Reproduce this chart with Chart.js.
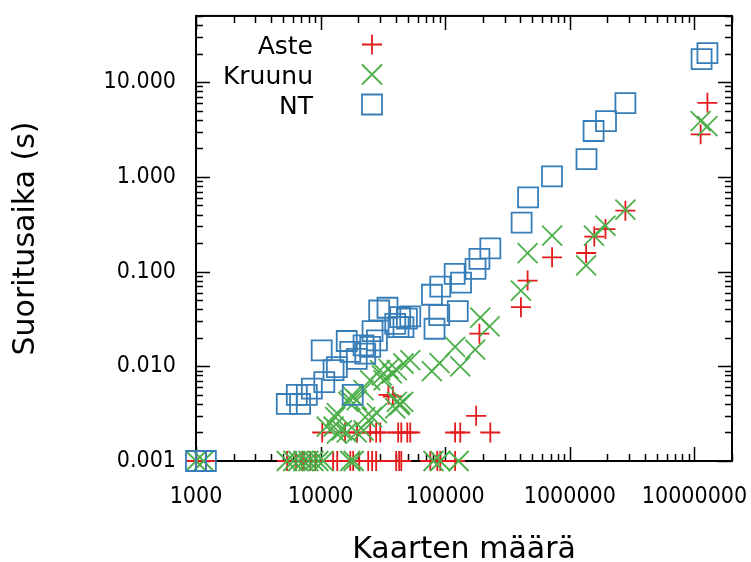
<!DOCTYPE html>
<html>
<head>
<meta charset="utf-8">
<title>Suoritusaika</title>
<script src="https://cdn.jsdelivr.net/npm/chart.js@4.4.1/dist/chart.umd.min.js"></script>
<style>
  html, body { margin: 0; padding: 0; background: #fff; }
  canvas { display: block; }
</style>
</head>
<body>
<canvas id="chart" width="751" height="562"></canvas>
<script>
// Values: x = number of cards, y = run time in seconds
const ASTE_X = [1000, 1200, 5380, 6350, 7100, 7360, 8240, 9040, 12600, 13600, 17300, 18250,
    20400, 24100, 25900, 27900, 40400, 42700, 44400, 75900, 86300, 91200, 120000,
    10300, 15700, 19600, 25000, 27900, 30100, 41900, 44400, 49600, 52400, 120000, 132000, 230000,
    177000, 35000, 38000, 188000, 405000, 458000, 720000, 1350000, 1570000, 1930000, 2790000,
    11200000, 12700000];
const ASTE_Y = [0.001, 0.001, 0.001, 0.001, 0.001, 0.001, 0.001, 0.001, 0.001, 0.001, 0.001, 0.001,
    0.001, 0.001, 0.001, 0.001, 0.001, 0.001, 0.001, 0.001, 0.001, 0.001, 0.001,
    0.002, 0.002, 0.002, 0.002, 0.002, 0.002, 0.002, 0.002, 0.002, 0.002, 0.002, 0.002, 0.002,
    0.003, 0.005, 0.0048, 0.0221, 0.0421, 0.0804, 0.1415, 0.157, 0.234, 0.281, 0.439,
    2.81, 6.05];

const KRUUNU_X = [1000, 1150, 5350, 6040, 6630, 7280, 7980, 8750, 9600, 10500, 17300, 18400, 80500, 91200, 128000,
    11200, 12700, 13500, 14800, 16200, 19500, 22100,
    13100, 13500, 22800, 25800, 28300,
    16700, 17300, 19500, 17800,
    39700, 43000, 43500, 40900, 46000,
    22100, 25000, 32000, 30000, 35100, 40900, 46200, 52400, 37300, 31000,
    78000, 90000, 120000, 132000, 174000, 191000, 227000,
    405000, 458000, 720000, 1350000, 1560000, 1930000, 2790000,
    11200000, 12700000];
const KRUUNU_Y = [0.001, 0.001, 0.001, 0.001, 0.001, 0.001, 0.001, 0.001, 0.001, 0.001, 0.001, 0.001, 0.001, 0.001, 0.001,
    0.0023, 0.0023, 0.00195, 0.0021, 0.002, 0.002, 0.0021,
    0.0029, 0.0032, 0.0029, 0.0029, 0.0032,
    0.0042, 0.0044, 0.0044, 0.0049,
    0.0036, 0.0039, 0.004, 0.0042, 0.0042,
    0.0056, 0.0071, 0.0071, 0.0091, 0.0094, 0.0091, 0.0107, 0.0116, 0.0084, 0.008,
    0.0089, 0.0108, 0.016, 0.01, 0.015, 0.0326, 0.0264,
    0.063, 0.157, 0.239, 0.116, 0.239, 0.305, 0.45,
    3.88, 3.44];

const NT_X = [1000, 1200, 5350, 6440, 6840, 7750, 8500, 10700, 12700, 13500, 10200, 18100,
    16200, 17300, 19500, 22100, 25000, 22800, 26100, 28300, 29500, 34400, 39700, 42200,
    43500, 49200, 52400, 46200, 82000, 89500, 126000, 78200, 91200, 134000, 119000,
    175000, 188000, 230000, 410000, 462000, 719000, 1360000, 1550000, 1950000, 2790000,
    11400000, 12700000];
const NT_Y = [0.001, 0.001, 0.004, 0.005, 0.004, 0.005, 0.0058, 0.0068, 0.0091, 0.0098, 0.0147, 0.005,
    0.0185, 0.0142, 0.012, 0.0166, 0.016, 0.0136, 0.0235, 0.0188, 0.0388, 0.0415, 0.0281, 0.0259,
    0.033, 0.0318, 0.0336, 0.0259, 0.0249, 0.0347, 0.0382, 0.0569, 0.0695, 0.0766, 0.0946,
    0.107, 0.136, 0.176, 0.328, 0.606, 1.01, 1.54, 3.05, 3.88, 6.0,
    17.5, 20.2];

const X_TICKS = [1000, 10000, 100000, 1000000, 10000000];
const X_TICK_LABELS = ['1000', '10000', '100000', '1000000', '10000000'];
const Y_TICKS = [0.001, 0.01, 0.1, 1, 10];
const Y_TICK_LABELS = ['0.001', '0.010', '0.100', '1.000', '10.000'];

const FONT = 'DejaVu Sans';
const TICK_FONT = '"DejaVu Sans Condensed", "DejaVu Sans"';

function toPoints(xs, ys) {
    return xs.map((x, i) => ({ x: x, y: ys[i] }));
}

// marker shapes for the hand drawn key (same sizes as the chart points)
function drawMarker(ctx, style, x, y, color) {
    ctx.save();
    ctx.strokeStyle = color;
    ctx.lineWidth = 1.8;
    ctx.beginPath();
    if (style === 'cross') {
        ctx.moveTo(x - 10, y); ctx.lineTo(x + 10, y);
        ctx.moveTo(x, y - 10); ctx.lineTo(x, y + 10);
    } else if (style === 'crossRot') {
        ctx.moveTo(x - 10, y - 10); ctx.lineTo(x + 10, y + 10);
        ctx.moveTo(x - 10, y + 10); ctx.lineTo(x + 10, y - 10);
    } else {
        ctx.rect(x - 10, y - 10, 20, 20);
    }
    ctx.stroke();
    ctx.restore();
}

// gnuplot style key: text right aligned, sample to the right
const keyPlugin = {
    id: 'keyPlugin',
    afterDraw(chart) {
        const ctx = chart.ctx;
        ctx.save();
        ctx.font = '25px "' + FONT + '"';
        ctx.textAlign = 'right';
        ctx.textBaseline = 'alphabetic';
        ctx.fillStyle = '#000';
        chart.data.datasets.forEach((ds, i) => {
            const base = 54 + i * 30;
            ctx.fillText(ds.label, 313, base);
            drawMarker(ctx, ds.pointStyle, 372, base - 9.5, ds.borderColor);
        });
        ctx.restore();
    }
};

// box round the plot with inward ticks on all four sides
const frameTicks = {
    id: 'frameTicks',
    beforeDatasetsDraw(chart) {
        const { ctx, chartArea: a } = chart;
        const sx = chart.scales.x;
        const sy = chart.scales.y;
        ctx.save();
        ctx.strokeStyle = '#000';
        ctx.lineWidth = 1.5;
        ctx.beginPath();
        for (let e = 3; e <= 7; e++) {
            for (let k = 1; k <= 9; k++) {
                const v = k * Math.pow(10, e);
                if (v > sx.max) break;
                const px = Math.round(sx.getPixelForValue(v)) + 0.5;
                const len = k === 1 ? 14 : 7;
                ctx.moveTo(px, a.bottom); ctx.lineTo(px, a.bottom - len);
                ctx.moveTo(px, a.top); ctx.lineTo(px, a.top + len);
            }
        }
        for (let e = -3; e <= 1; e++) {
            for (let k = 1; k <= 9; k++) {
                const v = k * Math.pow(10, e);
                if (v > sy.max * 1.0001) break;
                const py = Math.round(sy.getPixelForValue(v)) + 0.5;
                const len = k === 1 ? 14 : 7;
                ctx.moveTo(a.left, py); ctx.lineTo(a.left + len, py);
                ctx.moveTo(a.right, py); ctx.lineTo(a.right - len, py);
            }
        }
        ctx.stroke();
        ctx.lineWidth = 2;
        ctx.strokeRect(a.left, a.top, a.right - a.left, a.bottom - a.top);
        ctx.restore();
    }
};

const ctx = document.getElementById('chart').getContext('2d');

new Chart(ctx, {
    type: 'scatter',
    data: {
        datasets: [
            {
                label: 'Aste',
                data: toPoints(ASTE_X, ASTE_Y),
                pointStyle: 'cross',
                pointRadius: 10,
                pointHoverRadius: 10,
                borderColor: '#e41a1c',
                backgroundColor: 'transparent',
                borderWidth: 1.8,
                clip: false,
                order: 3
            },
            {
                label: 'Kruunu',
                data: toPoints(KRUUNU_X, KRUUNU_Y),
                pointStyle: 'crossRot',
                pointRadius: 14.14,
                pointHoverRadius: 14.14,
                borderColor: '#4daf4a',
                backgroundColor: 'transparent',
                borderWidth: 1.8,
                clip: false,
                order: 2
            },
            {
                label: 'NT',
                data: toPoints(NT_X, NT_Y),
                pointStyle: 'rect',
                pointRadius: 14.14,
                pointHoverRadius: 14.14,
                borderColor: '#377eb8',
                backgroundColor: 'transparent',
                borderWidth: 1.8,
                clip: false,
                order: 1
            }
        ]
    },
    options: {
        responsive: false,
        animation: false,
        devicePixelRatio: 1,
        events: [],
        layout: { padding: { left: 0, right: 19, top: 14, bottom: 0 } },
        plugins: {
            legend: { display: false },
            tooltip: { enabled: false }
        },
        scales: {
            x: {
                type: 'logarithmic',
                min: 1000,
                max: 20000000,
                grid: { display: false, drawTicks: false },
                border: { display: false },
                afterBuildTicks: (s) => { s.ticks = X_TICKS.map(v => ({ value: v })); },
                afterFit: (s) => {
                    s.height = 101;
                    s.paddingLeft = 0;
                    s.paddingRight = 0;
                },
                ticks: {
                    autoSkip: false,
                    maxRotation: 0,
                    padding: 22,
                    color: '#000',
                    font: { family: TICK_FONT, size: 23 },
                    callback: (v, i) => X_TICK_LABELS[i]
                },
                title: {
                    display: true,
                    text: 'Kaarten määrä',
                    color: '#000',
                    font: { family: FONT, size: 30, lineHeight: 1 },
                    padding: { top: 0, bottom: -3 }
                }
            },
            y: {
                type: 'logarithmic',
                min: 0.001,
                max: 50,
                grid: { display: false, drawTicks: false },
                border: { display: false },
                afterBuildTicks: (s) => { s.ticks = Y_TICKS.map(v => ({ value: v })); },
                afterFit: (s) => {
                    s.width = 196;
                    s.paddingTop = 0;
                    s.paddingBottom = 0;
                },
                ticks: {
                    autoSkip: false,
                    padding: 20,
                    color: '#000',
                    font: { family: TICK_FONT, size: 23 },
                    callback: (v, i) => Y_TICK_LABELS[i]
                },
                title: {
                    display: true,
                    text: 'Suoritusaika (s)',
                    color: '#000',
                    font: { family: FONT, size: 30, lineHeight: 1 },
                    padding: { top: 11, bottom: 0 }
                }
            }
        }
    },
    plugins: [frameTicks, keyPlugin]
});
</script>
</body>
</html>
